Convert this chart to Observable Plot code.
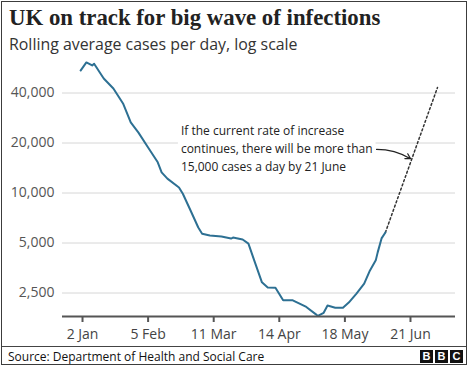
<!DOCTYPE html>
<html><head><meta charset="utf-8">
<script src="https://cdn.jsdelivr.net/npm/d3@7"></script>
<script src="https://cdn.jsdelivr.net/npm/@observablehq/plot@0.6"></script>
<style>
body{margin:0;background:#fff;}
#wrap{position:relative;width:471px;height:367px;overflow:hidden;font-family:"Open Sans",sans-serif;background:#fff;}
#frame{position:absolute;left:1px;top:1px;width:464px;height:362px;border:1.5px solid #3c3c3c;pointer-events:none;}
#title{position:absolute;left:9px;top:5px;font-family:"Liberation Serif",serif;font-weight:bold;font-size:22.8px;color:#222;white-space:nowrap;}
#subtitle{position:absolute;left:9px;top:33px;font-size:15.9px;color:#333;white-space:nowrap;}
#chart{position:absolute;left:0;top:50px;}
#sep{position:absolute;left:2px;top:346px;width:464px;height:0;border-top:1px solid #444;}
#source{position:absolute;left:8px;top:348px;font-size:12px;color:#111;white-space:nowrap;}
#logo{position:absolute;left:420px;top:350px;display:flex;gap:2px;}
#logo span{display:block;width:13px;height:13px;background:#111;color:#fff;font:bold 11px "Liberation Sans",sans-serif;text-align:center;line-height:13px;}
</style>
</head><body>
<div id="wrap">
  <div id="chart"></div>
  <div id="title">UK on track for big wave of infections</div>
  <div id="subtitle">Rolling average cases per day, log scale</div>
  <div id="sep"></div>
  <div id="source">Source: Department of Health and Social Care</div>
  <div id="logo"><span>B</span><span>B</span><span>C</span></div>
  <div id="frame"></div>
</div>
<script>
const dates = ["2021-01-01","2021-01-04","2021-01-07","2021-01-08","2021-01-13","2021-01-18","2021-01-23","2021-01-27","2021-01-31","2021-02-05","2021-02-10","2021-02-12","2021-02-15","2021-02-21","2021-02-23","2021-02-27","2021-03-03","2021-03-05","2021-03-09","2021-03-15","2021-03-20","2021-03-21","2021-03-26","2021-03-29","2021-04-01","2021-04-05","2021-04-08","2021-04-12","2021-04-16","2021-04-21","2021-04-28","2021-05-03","2021-05-04","2021-05-07","2021-05-09","2021-05-13","2021-05-17","2021-05-20","2021-05-24","2021-05-28","2021-05-31","2021-06-03","2021-06-04","2021-06-06","2021-06-08"];
const cases = [54600,61100,58600,60000,48900,42600,34600,26600,23100,18800,15300,13300,12200,10800,9900,7850,6200,5690,5550,5470,5320,5390,5250,4960,3930,2900,2700,2690,2260,2260,2060,1860,1820,1900,2100,2040,2040,2190,2480,2850,3420,3930,4390,5330,5790];
// Projection
const projDates = ["2021-06-08","2021-07-05"];
const projCases = [5790,43200];
// Axis ticks
const yTicks = [2500,5000,10000,20000,40000];
const xTicks = ["2021-01-02","2021-02-05","2021-03-11","2021-04-14","2021-05-18","2021-06-21"];
// Annotation
const noteText = "If the current rate of increase\ncontinues, there will be more than\n15,000 cases a day by 21 June";
const noteAt = {date:"2021-02-22", value:18800};
const arrowFrom = {date:"2021-06-03T10:00", value:18300};
const arrowTo = {date:"2021-06-21", value:16100};
const xExtent = ["2020-12-22T15:00","2021-07-14T08:00"];
const yExtent = [1805, 40000];

const P = (d) => new Date(d + (d.length === 10 ? "T00:00Z" : "Z"));
const series = dates.map((d,i) => ({date:P(d), value:cases[i]}));
const proj = projDates.map((d,i) => ({date:P(d), value:projCases[i]}));

const W = 471, H = 295;
const chart = Plot.plot({
  width: W, height: H,
  marginLeft: 62, marginRight: 16, marginTop: 0, marginBottom: 29,
  style: {fontFamily: "'Open Sans', sans-serif", background: "transparent", overflow: "visible"},
  x: {type: "utc", domain: xExtent.map(P)},
  y: {type: "log", domain: yExtent, range: [266, 42.5]},
  marks: [
    Plot.ruleY(yTicks, {stroke: "#d6d6d6", strokeWidth: 1}),
    Plot.text([noteText], {x: () => P(noteAt.date), y: () => noteAt.value, text: d => d, textAnchor: "start", lineAnchor: "middle", lineHeight: 1.5, fontSize: 12, fill: "#222"}),
    Plot.arrow([0], {x1: () => P(arrowFrom.date), y1: () => arrowFrom.value, x2: () => P(arrowTo.date), y2: () => arrowTo.value, bend: 15, stroke: "#222", strokeWidth: 1.2, headLength: 7}),
    Plot.line(proj, {x: "date", y: "value", stroke: "#333", strokeWidth: 1.5, strokeDasharray: "2,2.5"}),
    Plot.line(series, {x: "date", y: "value", stroke: "#2d7093", strokeWidth: 2, curve: "linear"}),
    Plot.ruleY([yExtent[0]], {stroke: "#555", strokeWidth: 2}),
    Plot.axisX(xTicks.map(P), {tickFormat: d3.utcFormat("%-d %b"), tickSize: 6, tickPadding: 7, fontSize: 14, fill: "#444", stroke: "#555", strokeWidth: 2, label: null}),
    Plot.axisY(yTicks, {tickFormat: d3.format(","), tickSize: 0, tickPadding: 8, fontSize: 14, fill: "#555", label: null})
  ]
});
document.getElementById("chart").appendChild(chart);
// white backing box behind annotation text (hides the gridline as in the original)
for (const t of chart.querySelectorAll("text")) {
  if (t.textContent.includes("If the current")) {
    const b = t.getBBox();
    const r = document.createElementNS("http://www.w3.org/2000/svg", "rect");
    r.setAttribute("x", b.x - 3); r.setAttribute("y", b.y - 2);
    r.setAttribute("width", b.width + 6); r.setAttribute("height", b.height + 4);
    r.setAttribute("fill", "#fff");
    const tr = t.getAttribute("transform");
    if (tr) r.setAttribute("transform", tr);
    t.parentNode.insertBefore(r, t);
    break;
  }
}
</script>
</body></html>
